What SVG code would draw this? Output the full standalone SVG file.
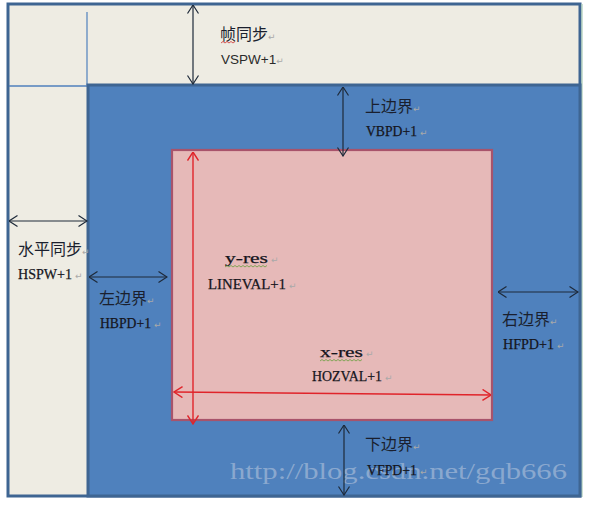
<svg xmlns="http://www.w3.org/2000/svg" width="597" height="510" viewBox="0 0 597 510">
<defs>
<marker id="ab" viewBox="0 0 10 12" refX="9.5" refY="6" markerWidth="10" markerHeight="12" markerUnits="userSpaceOnUse" orient="auto-start-reverse">
<path d="M1,0.5 L9.5,6 L1,11.5" fill="none" stroke="#1e2a3a" stroke-width="1.2"/>
</marker>
<marker id="ar" viewBox="0 0 10 12" refX="9.5" refY="6" markerWidth="10" markerHeight="12" markerUnits="userSpaceOnUse" orient="auto-start-reverse">
<path d="M1,0.5 L9.5,6 L1,11.5" fill="none" stroke="#e0242a" stroke-width="1.4"/>
</marker>
</defs>
<style>
.cn{font-family:"Noto Sans CJK SC","Liberation Sans",sans-serif;font-size:16px;fill:#1a1f2e}
.mono{font-family:"Liberation Serif","Noto Sans CJK SC",serif;font-size:15px;fill:#15151c;stroke:#15151c;stroke-width:0.25}
.sans{font-family:"Liberation Sans",sans-serif;font-size:13.5px;fill:#2a2a2a}
.rt{fill:#a9a9a9;stroke:none;font-family:"DejaVu Sans",sans-serif;font-size:9px}
.ba{stroke:#1e2a3a;stroke-width:1.2;fill:none;marker-start:url(#ab);marker-end:url(#ab)}
.ra{stroke:#e0242a;stroke-width:1.4;fill:none;marker-start:url(#ar);marker-end:url(#ar)}
.wm{font-family:"Liberation Serif",serif;font-size:23px;fill:#b4c4dc;fill-opacity:0.6}
</style>
<rect width="597" height="510" fill="#ffffff"/>
<g id="frame">
<rect x="8" y="4" width="572" height="492" fill="#eeece3" stroke="#3e6592" stroke-width="3"/>
<line x1="582" y1="4" x2="582" y2="497" stroke="#a9cbb4" stroke-width="1.2"/>
<line x1="87" y1="12" x2="87" y2="85" stroke="#4f81bd" stroke-width="1.2"/>
<line x1="9" y1="86" x2="88" y2="86" stroke="#4f81bd" stroke-width="1.5"/>
</g>
<g id="porch">
<rect x="88" y="85" width="492" height="411" fill="#4f81bd" stroke="#3e6592" stroke-width="3"/>
</g>
<g id="active">
<rect x="172" y="150" width="320" height="270" fill="#e6b9b8" stroke="#a8536b" stroke-width="2.2"/>
</g>
<g id="watermark">
<text class="wm" x="230" y="479" textLength="337" lengthAdjust="spacingAndGlyphs">http://blog.csdn.net/gqb666</text>
</g>
<g id="connectors">
<line class="ba" x1="193" y1="5" x2="193" y2="84"/>
<line class="ba" x1="343" y1="87" x2="343" y2="156"/>
<line class="ba" x1="9" y1="221" x2="87" y2="221"/>
<line class="ba" x1="89" y1="277" x2="167" y2="277"/>
<line class="ba" x1="498" y1="292" x2="578" y2="292"/>
<line class="ba" x1="344" y1="425" x2="344" y2="495"/>
<line class="ra" x1="193" y1="152" x2="193" y2="424"/>
<line class="ra" x1="174" y1="392" x2="491" y2="395"/>
</g>
<g id="label-vspw">
<text class="cn" x="220" y="40">帧同步<tspan class="rt">↵</tspan></text>
<path d="M221,43 l2,-1.5 l2,1.5 l2,-1.5 l2,1.5 l2,-1.5 l2,1.5 l2,-1.5" fill="none" stroke="#d03030" stroke-width="0.8"/>
<text class="sans" x="221" y="64">VSPW+1<tspan class="rt">↵</tspan></text>
</g>
<g id="label-vbpd">
<text class="cn" x="365" y="112">上边界<tspan class="rt">↵</tspan></text>
<text class="mono" x="366" y="136" textLength="51" lengthAdjust="spacingAndGlyphs">VBPD+1</text><text class="rt" x="420" y="136">↵</text>
</g>
<g id="label-hspw">
<text class="cn" x="18" y="255">水平同步<tspan class="rt">↵</tspan></text>
<text class="mono" x="18" y="279" textLength="54" lengthAdjust="spacingAndGlyphs">HSPW+1</text><text class="rt" x="75" y="279">↵</text>
</g>
<g id="label-hbpd">
<text class="cn" x="99" y="304">左边界<tspan class="rt">↵</tspan></text>
<text class="mono" x="100" y="328" textLength="51" lengthAdjust="spacingAndGlyphs">HBPD+1</text><text class="rt" x="154" y="328">↵</text>
</g>
<g id="label-yres">
<text class="mono" x="225" y="263" textLength="43" lengthAdjust="spacingAndGlyphs">y-res</text><text class="rt" x="271" y="263">↵</text>
<path d="M225,267 l2,-1.5 l2,1.5 l2,-1.5 l2,1.5 l2,-1.5 l2,1.5 l2,-1.5 l2,1.5 l2,-1.5 l2,1.5 l2,-1.5 l2,1.5 l2,-1.5 l2,1.5 l2,-1.5 l2,1.5 l2,-1.5 l2,1.5 l2,-1.5 l2,1.5 l2,-1.5" fill="none" stroke="#6aa040" stroke-width="0.8"/>
<text class="mono" x="208" y="289" textLength="78" lengthAdjust="spacingAndGlyphs">LINEVAL+1</text><text class="rt" x="289" y="289">↵</text>
</g>
<g id="label-xres">
<text class="mono" x="320" y="357" textLength="43" lengthAdjust="spacingAndGlyphs">x-res</text><text class="rt" x="366" y="357">↵</text>
<path d="M320,361 l2,-1.5 l2,1.5 l2,-1.5 l2,1.5 l2,-1.5 l2,1.5 l2,-1.5 l2,1.5 l2,-1.5 l2,1.5 l2,-1.5 l2,1.5 l2,-1.5 l2,1.5 l2,-1.5 l2,1.5 l2,-1.5 l2,1.5 l2,-1.5 l2,1.5 l2,-1.5" fill="none" stroke="#6aa040" stroke-width="0.8"/>
<text class="mono" x="312" y="381" textLength="70" lengthAdjust="spacingAndGlyphs">HOZVAL+1</text><text class="rt" x="385" y="381">↵</text>
</g>
<g id="label-hfpd">
<text class="cn" x="502" y="325">右边界<tspan class="rt">↵</tspan></text>
<text class="mono" x="503" y="349" textLength="51" lengthAdjust="spacingAndGlyphs">HFPD+1</text><text class="rt" x="557" y="349">↵</text>
</g>
<g id="label-vfpd">
<text class="cn" x="365" y="450">下边界<tspan class="rt">↵</tspan></text>
<text class="mono" x="367" y="475" textLength="50" lengthAdjust="spacingAndGlyphs">VFPD+1</text><text class="rt" x="420" y="475">↵</text>
</g>
</svg>
